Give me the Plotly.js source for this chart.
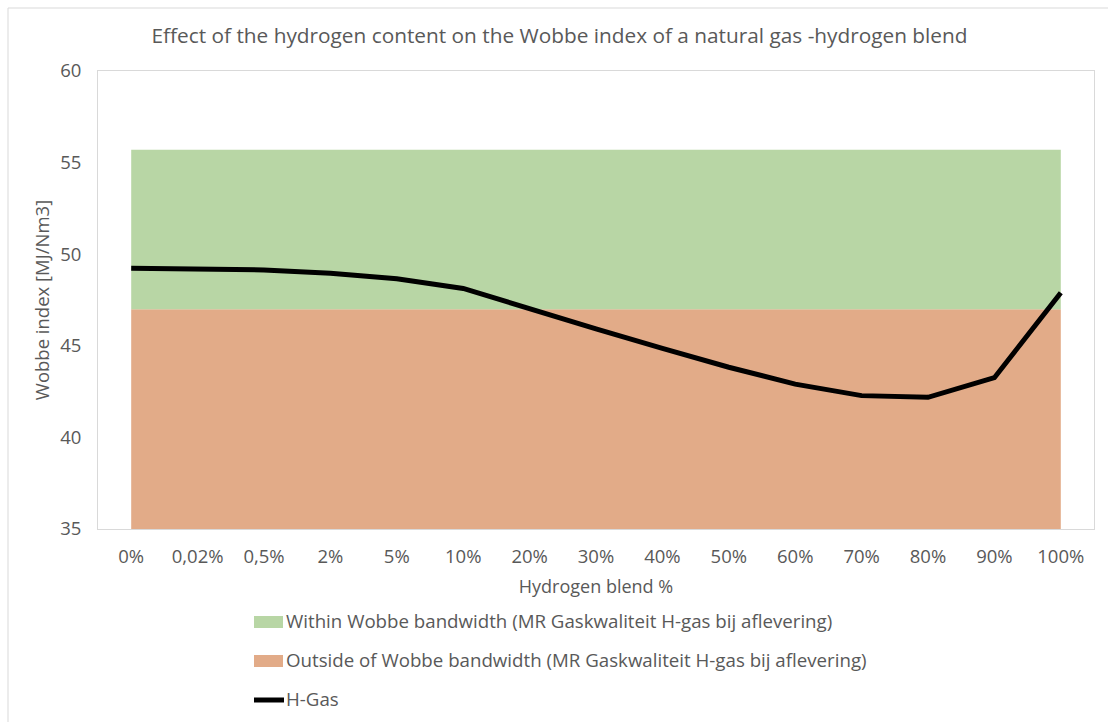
<!DOCTYPE html>
<html>
<head>
<meta charset="utf-8">
<script src="https://cdn.plot.ly/plotly-3.0.1.min.js"></script>
<style>html,body{margin:0;padding:0;background:#fff;}#chart{width:1108px;height:722px;}</style>
</head>
<body>
<div id="chart"></div>
<script>
// ---- data ----
const categories = ["0%", "0,02%", "0,5%", "2%", "5%", "10%", "20%", "30%", "40%", "50%", "60%", "70%", "80%", "90%", "100%"];
const hGas = [49.23, 49.21, 49.14, 48.96, 48.66, 48.13, 47.0, 45.92, 44.86, 43.83, 42.91, 42.28, 42.19, 43.26, 47.9];
const outsideBand = [47, 47, 47, 47, 47, 47, 47, 47, 47, 47, 47, 47, 47, 47, 47];
const withinBand = [8.7, 8.7, 8.7, 8.7, 8.7, 8.7, 8.7, 8.7, 8.7, 8.7, 8.7, 8.7, 8.7, 8.7, 8.7];
const seriesNames = [
  "Within Wobbe bandwidth (MR Gaskwaliteit H-gas bij aflevering)",
  "Outside of Wobbe bandwidth (MR Gaskwaliteit H-gas bij aflevering)",
  "H-Gas"
];
const yTicks = [35, 40, 45, 50, 55, 60];

// ---- styling ----
const GREEN = "#B8D6A5", ORANGE = "#E2AB88", TXT = "#595959", FONT = "Open Sans, sans-serif";
const W = 1108, H = 722, L = 98, R = 14, T = 71, B = 193;
const PW = W - L - R, PH = H - T - B;
const px = v => (v - L) / PW;
const py = v => (T + PH - v) / PH;

const traces = [
  { type: "scatter", mode: "none", x: categories, y: outsideBand, stackgroup: "band",
    fillcolor: ORANGE, name: seriesNames[1], showlegend: false, hoverinfo: "skip" },
  { type: "scatter", mode: "none", x: categories, y: withinBand, stackgroup: "band",
    fillcolor: GREEN, name: seriesNames[0], showlegend: false, hoverinfo: "skip" },
  { type: "scatter", mode: "lines", x: categories, y: hGas, name: seriesNames[2],
    line: { color: "#000000", width: 5 }, showlegend: false }
];

const legendRows = [
  { kind: "rect", color: GREEN, cy: 622, label: seriesNames[0] },
  { kind: "rect", color: ORANGE, cy: 661, label: seriesNames[1] },
  { kind: "line", color: "#000000", cy: 700, label: seriesNames[2] }
];

const shapes = [
  { type: "rect", xref: "paper", yref: "paper", x0: px(8), x1: px(1200), y0: py(900), y1: py(8),
    line: { color: "#D9D9D9", width: 1 }, fillcolor: "rgba(0,0,0,0)", layer: "below" }
];
const annotations = [];
legendRows.forEach(r => {
  if (r.kind === "rect") {
    shapes.push({ type: "rect", xref: "paper", yref: "paper", x0: px(254), x1: px(283),
      y0: py(r.cy + 6), y1: py(r.cy - 6), line: { width: 0 }, fillcolor: r.color });
  } else {
    shapes.push({ type: "line", xref: "paper", yref: "paper", x0: px(254), x1: px(284),
      y0: py(r.cy), y1: py(r.cy), line: { color: r.color, width: 5 } });
  }
  annotations.push({ xref: "paper", yref: "paper", x: px(284), y: py(r.cy - 2), xanchor: "left", yanchor: "middle",
    text: r.label, showarrow: false, font: { family: FONT, size: 18.7, color: TXT } });
});

const layout = {
  width: W, height: H,
  margin: { l: L, r: R, t: T, b: B },
  paper_bgcolor: "#FFFFFF", plot_bgcolor: "#FFFFFF",
  font: { family: FONT, color: TXT, size: 18 },
  showlegend: false,
  title: { text: "Effect of the hydrogen content on the Wobbe index of a natural gas -hydrogen blend",
    xref: "container", yref: "container", x: 559.5 / W, y: 1 - 36 / H, xanchor: "center", yanchor: "middle",
    font: { family: FONT, size: 20.8, color: TXT } },
  xaxis: {
    type: "category", categoryorder: "array", categoryarray: categories,
    range: [-0.5, categories.length - 0.5],
    showgrid: false, zeroline: false, showline: true, mirror: true, linecolor: "#D9D9D9", linewidth: 1,
    ticks: "", ticklabelstandoff: 11, tickfont: { family: FONT, size: 18.5, color: TXT },
    title: { text: "Hydrogen blend %", font: { family: FONT, size: 18, color: TXT }, standoff: 13 },
    automargin: false, fixedrange: true
  },
  yaxis: {
    range: [35, 60], tickvals: yTicks, ticktext: yTicks.map(String),
    showgrid: false, zeroline: false, showline: true, mirror: true, linecolor: "#D9D9D9", linewidth: 1,
    ticks: "", ticklabelstandoff: 12, tickfont: { family: FONT, size: 18.5, color: TXT },
    title: { text: "Wobbe index [MJ/Nm3]", font: { family: FONT, size: 18.5, color: TXT }, standoff: 5 },
    automargin: false, fixedrange: true
  },
  shapes: shapes,
  annotations: annotations
};

Plotly.newPlot("chart", traces, layout, { displayModeBar: false, staticPlot: true });
</script>
</body>
</html>
